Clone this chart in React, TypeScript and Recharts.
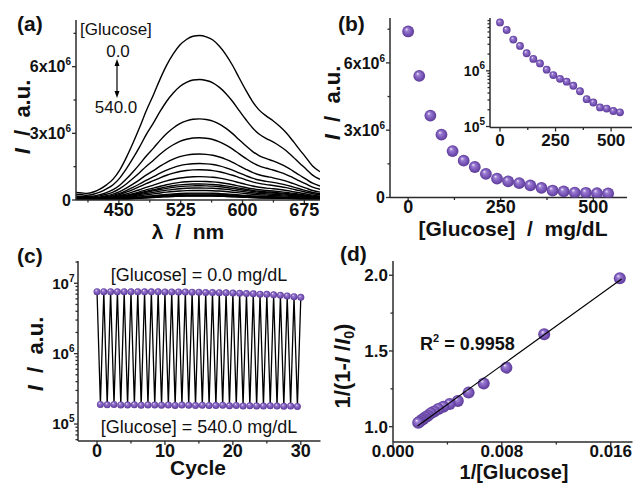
import React from "react";
import { LineChart, Line, ScatterChart, Scatter, XAxis, YAxis } from "recharts";

const FONT = "'Liberation Sans', Arial, Helvetica, sans-serif";
const AXIS = "#2b2b2b";

// glucose concentrations (mg/dL) and peak intensities
const glucose = [0, 30, 60, 90, 120, 150, 180, 210, 240, 270, 300, 330, 360, 390, 420, 450, 480, 510, 540];
const intensity = [
  7.4e6, 5.42e6, 3.65e6, 2.8e6, 2.07e6, 1.64e6, 1.36e6, 1.05e6, 0.84e6, 0.72e6,
  0.64e6, 0.54e6, 0.43e6, 0.31e6, 0.27e6, 0.22e6, 0.21e6, 0.19e6, 0.18e6,
];

const wavelength = [
  398, 405, 411, 420, 427, 435, 443, 451, 459, 467, 475, 483, 492, 500, 508, 516, 524, 532, 540,
  548, 556, 564, 572, 580, 588, 596, 604, 612, 620, 629, 637, 645, 653, 661, 669, 677, 685, 694,
];
const profile = [
  0.046, 0.043, 0.04, 0.05, 0.066, 0.092, 0.127, 0.182, 0.258, 0.345, 0.439, 0.54, 0.64, 0.735,
  0.82, 0.888, 0.942, 0.976, 0.996, 1.0, 0.992, 0.973, 0.935, 0.883, 0.818, 0.742, 0.668, 0.6,
  0.548, 0.51, 0.482, 0.448, 0.409, 0.36, 0.308, 0.258, 0.207, 0.172,
];

// panel (c): cycling between 0.0 and 540.0 mg/dL
const cycleHigh = [
  7.6, 7.6, 7.6, 7.58, 7.58, 7.56, 7.56, 7.55, 7.54, 7.54, 7.52, 7.5, 7.5, 7.48, 7.46, 7.45,
  7.4, 7.38, 7.35, 7.3, 7.25, 7.2, 7.15, 7.1, 7.0, 6.95, 6.85, 6.75, 6.6, 6.45, 6.3,
]; // x10^6
const cycleLow = [
  1.9, 1.88, 1.9, 1.87, 1.86, 1.88, 1.85, 1.87, 1.86, 1.85, 1.86, 1.84, 1.86, 1.85, 1.83,
  1.85, 1.84, 1.83, 1.85, 1.82, 1.84, 1.8, 1.82, 1.81, 1.8, 1.82, 1.8, 1.79, 1.8, 1.78,
]; // x10^5

// panel (d): 1/[Glucose] vs 1/(1-I/I0)
const invGlucose = [1 / 60, 1 / 90, 1 / 120, 1 / 150, 1 / 180, 1 / 210, 1 / 240, 1 / 270, 1 / 300, 1 / 330, 1 / 360, 1 / 390, 1 / 420, 1 / 450, 1 / 480, 1 / 510, 1 / 540];
const invQuench = [1.98, 1.61, 1.39, 1.286, 1.225, 1.17, 1.15, 1.132, 1.117, 1.1, 1.088, 1.073, 1.062, 1.051, 1.042, 1.033, 1.026];
const fitX = [0.0018, 0.0168];
const fitY = [1.005, 1.975];

const spectraRows = wavelength.map((wl, j) => {
  const row: Record<string, number> = { wl };
  intensity.forEach((p, i) => {
    row["s" + i] = p * profile[j];
  });
  return row;
});
const glucoseRows = glucose.map((g, i) => ({ x: g, y: intensity[i] }));
const cycleRows: { cycle: number; v: number }[] = [];
cycleHigh.forEach((h, i) => {
  cycleRows.push({ cycle: i, v: h * 1e6 });
  if (i < cycleLow.length) cycleRows.push({ cycle: i + 0.5, v: cycleLow[i] * 1e5 });
});
const sternRows = invGlucose.map((x, i) => ({ x, y: invQuench[i] }));
const fitRows = fitX.map((x, i) => ({ x, y: fitY[i] }));

type TickCfg = {
  side: "left" | "bottom";
  majors: number[];
  fmt: (v: number) => React.ReactNode;
  size: number;
  offset: number;
};

function axisTick(cfg: TickCfg) {
  return (p: any) => {
    const v = p.payload.value as number;
    const major = cfg.majors.includes(v);
    const len = major ? 4 : 2.5;
    if (cfg.side === "left") {
      return (
        <g>
          <line x1={p.x} y1={p.y} x2={p.x - len} y2={p.y} stroke={AXIS} strokeWidth={1.3} />
          {major && (
            <text x={p.x - cfg.offset} y={p.y + cfg.size * 0.36} textAnchor="end" fontSize={cfg.size} fontWeight="bold" fontFamily={FONT} fill="#111">
              {cfg.fmt(v)}
            </text>
          )}
        </g>
      );
    }
    return (
      <g>
        <line x1={p.x} y1={p.y} x2={p.x} y2={p.y + len} stroke={AXIS} strokeWidth={1.3} />
        {major && (
          <text x={p.x} y={p.y + cfg.offset} textAnchor="middle" fontSize={cfg.size} fontWeight="bold" fontFamily={FONT} fill="#111">
            {cfg.fmt(v)}
          </text>
        )}
      </g>
    );
  };
}

const sci = (v: number) =>
  v === 0 ? "0" : (
    <>
      {v / 1e6}x10<tspan dy={-7} fontSize={10}>6</tspan>
    </>
  );
const pow = (v: number) => (
  <>
    10<tspan dy={-7} fontSize={10}>{Math.round(Math.log10(v))}</tspan>
  </>
);

function box(L: number, T: number, R: number, B: number) {
  return { left: L - 70, top: T - 10, width: R - L + 78, height: B - T + 55 };
}
const MARGIN = { top: 10, right: 8, left: 0, bottom: 0 };
const axisLine = { stroke: AXIS, strokeWidth: 1.5 };

const sphere = (r: number) => (p: any) => <circle key={p.index} cx={p.cx} cy={p.cy} r={r} fill="url(#sphere)" />;

function Panel({ b, children }: { b: ReturnType<typeof box>; children: React.ReactNode }) {
  return <div style={{ position: "absolute", left: b.left, top: b.top }}>{children}</div>;
}

function PanelA() {
  const b = box(76, 20, 320, 200);
  return (
    <Panel b={b}>
      <LineChart width={b.width} height={b.height} data={spectraRows} margin={MARGIN}>
        <XAxis dataKey="wl" type="number" domain={[398, 694]} allowDataOverflow height={45} interval={0}
          ticks={[412.5, 450, 487.5, 525, 562.5, 600, 637.5, 675]} tickSize={0} tickMargin={0} tickLine={false} axisLine={axisLine}
          tick={axisTick({ side: "bottom", majors: [450, 525, 600, 675], fmt: String, size: 18, offset: 16 })} />
        <YAxis type="number" domain={[0, 8.1e6]} allowDataOverflow width={70} interval={0}
          ticks={[0, 1.5e6, 3e6, 4.5e6, 6e6, 7.5e6]} tickSize={0} tickMargin={0} tickLine={false} axisLine={axisLine}
          tick={axisTick({ side: "left", majors: [0, 3e6, 6e6], fmt: sci, size: 16, offset: 5 })} />
        {intensity.map((_, i) => (
          <Line key={i} dataKey={"s" + i} type="monotone" stroke="#000" strokeWidth={1.4} dot={false} activeDot={false} isAnimationActive={false} />
        ))}
      </LineChart>
    </Panel>
  );
}

function PanelB() {
  const b = box(390, 18, 627, 197.5);
  return (
    <Panel b={b}>
      <ScatterChart width={b.width} height={b.height} margin={MARGIN}>
        <XAxis dataKey="x" type="number" domain={[-49, 591]} allowDataOverflow height={45} interval={0}
          ticks={[0, 125, 250, 375, 500]} tickSize={0} tickMargin={0} tickLine={false} axisLine={axisLine}
          tick={axisTick({ side: "bottom", majors: [0, 250, 500], fmt: String, size: 18, offset: 15 })} />
        <YAxis dataKey="y" type="number" domain={[0, 8.0e6]} allowDataOverflow width={70} interval={0}
          ticks={[0, 1.5e6, 3e6, 4.5e6, 6e6, 7.5e6]} tickSize={0} tickMargin={0} tickLine={false} axisLine={axisLine}
          tick={axisTick({ side: "left", majors: [0, 3e6, 6e6], fmt: sci, size: 16, offset: 5 })} />
        <Scatter data={glucoseRows} shape={sphere(5.9)} isAnimationActive={false} />
      </ScatterChart>
    </Panel>
  );
}

const logMinorInset = [2e5, 3e5, 4e5, 5e5, 6e5, 7e5, 8e5, 9e5, 2e6, 3e6, 4e6, 5e6, 6e6, 7e6, 8e6];
function Inset() {
  const b = box(490, 18, 632, 127.5);
  return (
    <Panel b={b}>
      <ScatterChart width={b.width} height={b.height} margin={MARGIN}>
        <XAxis dataKey="x" type="number" domain={[-45, 594]} allowDataOverflow height={45} interval={0}
          ticks={[0, 125, 250, 375, 500]} tickSize={0} tickMargin={0} tickLine={false} axisLine={axisLine}
          tick={axisTick({ side: "bottom", majors: [0, 250, 500], fmt: String, size: 17, offset: 18 })} />
        <YAxis dataKey="y" type="number" scale="log" domain={[9.6e4, 8.9e6]} allowDataOverflow width={70} interval={0}
          ticks={[1e5, 1e6, ...logMinorInset]} tickSize={0} tickMargin={0} tickLine={false} axisLine={axisLine}
          tick={axisTick({ side: "left", majors: [1e5, 1e6], fmt: pow, size: 14, offset: 5 })} />
        <Scatter data={glucoseRows} shape={sphere(3.9)} isAnimationActive={false} />
      </ScatterChart>
    </Panel>
  );
}

const logMinorC = [
  6e4, 7e4, 8e4, 9e4, 2e5, 3e5, 4e5, 5e5, 6e5, 7e5, 8e5, 9e5, 2e6, 3e6, 4e6, 5e6, 6e6, 7e6, 8e6, 9e6, 2e7,
];
function PanelC() {
  const b = box(77.5, 261, 320, 441);
  return (
    <Panel b={b}>
      <LineChart width={b.width} height={b.height} data={cycleRows} margin={MARGIN}>
        <XAxis dataKey="cycle" type="number" domain={[-2.8, 32.9]} allowDataOverflow height={45} interval={0}
          ticks={[0, 5, 10, 15, 20, 25, 30]} tickSize={0} tickMargin={0} tickLine={false} axisLine={axisLine}
          tick={axisTick({ side: "bottom", majors: [0, 10, 20, 30], fmt: String, size: 18, offset: 16 })} />
        <YAxis type="number" scale="log" domain={[5.74e4, 2.07e7]} allowDataOverflow width={70} interval={0}
          ticks={[1e5, 1e6, 1e7, ...logMinorC]} tickSize={0} tickMargin={0} tickLine={false} axisLine={axisLine}
          tick={axisTick({ side: "left", majors: [1e5, 1e6, 1e7], fmt: pow, size: 15, offset: 3.5 })} />
        <Line dataKey="v" type="linear" stroke="#000" strokeWidth={1.3} dot={sphere(3.5)} activeDot={false} isAnimationActive={false} />
      </LineChart>
    </Panel>
  );
}

function PanelD() {
  const b = box(392.5, 261, 632, 442);
  return (
    <Panel b={b}>
      <ScatterChart width={b.width} height={b.height} margin={MARGIN}>
        <XAxis dataKey="x" type="number" domain={[0, 0.0176]} allowDataOverflow height={45} interval={0}
          ticks={[0, 0.004, 0.008, 0.012, 0.016]} tickSize={0} tickMargin={0} tickLine={false} axisLine={axisLine}
          tick={axisTick({ side: "bottom", majors: [0, 0.008, 0.016], fmt: (v) => v.toFixed(3), size: 17, offset: 14.5 })} />
        <YAxis dataKey="y" type="number" domain={[0.899, 2.094]} allowDataOverflow width={70} interval={0}
          ticks={[1.0, 1.25, 1.5, 1.75, 2.0]} tickSize={0} tickMargin={0} tickLine={false} axisLine={axisLine}
          tick={axisTick({ side: "left", majors: [1.0, 1.5, 2.0], fmt: (v) => v.toFixed(1), size: 17, offset: 5 })} />
        <Scatter data={sternRows} shape={sphere(6)} isAnimationActive={false} />
        <Scatter data={fitRows} line={{ stroke: "#000", strokeWidth: 1.1 }} shape={() => <g />} isAnimationActive={false} />
      </ScatterChart>
    </Panel>
  );
}

const bold = { fontFamily: FONT, fontWeight: "bold" as const, fill: "#111" };
const regular = { fontFamily: FONT, fill: "#111" };

function YTitle({ x, y, children }: { x: number; y: number; children: React.ReactNode }) {
  return (
    <text transform={`translate(${x},${y}) rotate(-90)`} textAnchor="middle" fontSize={22} style={{ whiteSpace: "pre" }} {...bold}>
      {children}
    </text>
  );
}

function Overlay() {
  return (
    <svg width={633} height={483} style={{ position: "absolute", left: 0, top: 0, pointerEvents: "none" }}>
      <text x={17} y={31} fontSize={21} {...bold}>(a)</text>
      <text x={338} y={31} fontSize={21} {...bold}>(b)</text>
      <text x={17} y={263} fontSize={21} {...bold}>(c)</text>
      <text x={340} y={261} fontSize={21} {...bold}>(d)</text>

      <text x={80} y={35} fontSize={17} {...regular}>[Glucose]</text>
      <text x={118} y={57} fontSize={17} textAnchor="middle" {...regular}>0.0</text>
      <line x1={117} y1={63} x2={117} y2={94} stroke="#000" strokeWidth={1.2} />
      <polygon points="117,59 114.5,66 119.5,66" fill="#000" />
      <polygon points="117,98 114.5,91 119.5,91" fill="#000" />
      <text x={116} y={113} fontSize={17} textAnchor="middle" {...regular}>540.0</text>

      <YTitle x={30} y={117}><tspan fontStyle="italic">I</tspan>{"  /  a.u."}</YTitle>
      <text x={188} y={239} fontSize={21} textAnchor="middle" style={{ whiteSpace: "pre" }} {...bold}>{"λ  /  nm"}</text>

      <YTitle x={340} y={103}><tspan fontStyle="italic">I</tspan>{"  /  a.u."}</YTitle>
      <text x={513} y={235.5} fontSize={21} textAnchor="middle" style={{ whiteSpace: "pre" }} {...bold}>{"[Glucose]  /  mg/dL"}</text>

      <text x={199} y={281} fontSize={18} textAnchor="middle" {...regular}>[Glucose] = 0.0 mg/dL</text>
      <text x={199} y={433} fontSize={18} textAnchor="middle" {...regular}>[Glucose] = 540.0 mg/dL</text>
      <YTitle x={43} y={354}><tspan fontStyle="italic">I</tspan>{"  /  a.u."}</YTitle>
      <text x={198} y={475} fontSize={21} textAnchor="middle" {...bold}>Cycle</text>

      <text x={420} y={350} fontSize={18} style={{ whiteSpace: "pre" }} {...bold}>
        R<tspan dy={-8} fontSize={11}>2</tspan><tspan dy={8}>{" = 0.9958"}</tspan>
      </text>
      <YTitle x={350} y={366}>
        {"1/(1-"}<tspan fontStyle="italic">I</tspan>{" /"}<tspan fontStyle="italic">I</tspan>
        <tspan dy={4} fontSize={14}>0</tspan><tspan dy={-4}>)</tspan>
      </YTitle>
      <text x={514} y={478.5} fontSize={20} textAnchor="middle" {...bold}>1/[Glucose]</text>
    </svg>
  );
}

export default function App() {
  return (
    <div style={{ position: "absolute", left: 0, top: 0, width: 633, height: 483, background: "#fff", fontFamily: FONT }}>
      <svg width={0} height={0} style={{ position: "absolute" }}>
        <defs>
          <radialGradient id="sphere" cx="0.5" cy="0.5" r="0.5" fx="0.35" fy="0.3">
            <stop offset="0" stopColor="#f3eefb" />
            <stop offset="0.28" stopColor="#9b7dd2" />
            <stop offset="0.7" stopColor="#7653b5" />
            <stop offset="1" stopColor="#5c3b96" />
          </radialGradient>
        </defs>
      </svg>
      <PanelA />
      <PanelB />
      <Inset />
      <PanelC />
      <PanelD />
      <Overlay />
    </div>
  );
}
